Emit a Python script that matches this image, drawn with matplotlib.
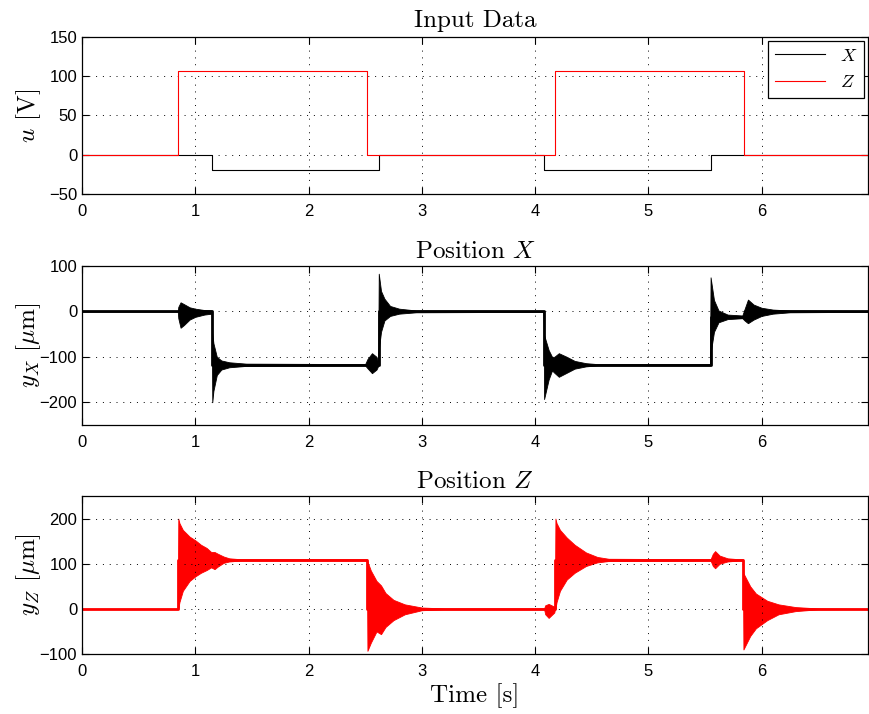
import numpy as np
import matplotlib
matplotlib.use("Agg")
import matplotlib.pyplot as plt

plt.rcParams['mathtext.fontset'] = 'cm'
plt.rcParams['font.family'] = ['Liberation Sans', 'DejaVu Sans']

# input voltages (switch times and levels)
ux_t = [0, 1.15, 2.62, 4.08, 5.555, 6.94]
ux_v = [0, -20, 0, -20, 0, 0]
uz_t = [0, 0.85, 2.52, 4.18, 5.845, 6.94]
uz_v = [0, 107, 0, 107, 0, 0]

# position X: settled level and oscillation envelope
yx_mean_t = [0, 1.15, 2.62, 4.08, 5.55, 5.85, 6.94]
yx_mean_v = [0, -117.5, 0, -117.5, -12, 0, 0]
yx_env_t = [0.0, 0.845, 0.85, 0.87, 0.90, 0.95, 1.00, 1.08, 1.145,
            1.15, 1.16, 1.19, 1.23, 1.30, 1.45, 2.50, 2.52, 2.56, 2.60, 2.615,
            2.62, 2.64, 2.67, 2.72, 2.80, 2.95, 4.075,
            4.08, 4.12, 4.15, 4.17, 4.21, 4.28, 4.35, 4.45, 4.55, 5.545,
            5.55, 5.58, 5.62, 5.70, 5.83, 5.85, 5.88, 5.93, 6.00, 6.10, 6.25, 6.94]
yx_lo = [0, 0, -15, -36, -30, -18, -12, -7, -5,
         -200, -175, -140, -128, -123, -120, -119, -125, -136, -128, -120,
         -85, -45, -20, -10, -5, -2, -1,
         -193, -150, -130, -135, -144, -135, -126, -121, -119, -119,
         -92, -45, -24, -17, -15, -20, -26, -18, -10, -5, -2, -1]
yx_hi = [0, 0, 10, 20, 16, 9, 6, 3, 2,
         -48, -70, -100, -108, -112, -115, -116, -105, -92, -100, -112,
         83, 45, 28, 12, 6, 2, 1,
         -52, -85, -100, -100, -92, -100, -109, -114, -116, -116,
         75, 25, 2, -7, -9, 5, 26, 15, 8, 4, 2, 1]

# position Z
yz_mean_t = [0, 0.85, 2.52, 4.18, 5.84, 6.94]
yz_mean_v = [0, 108.5, 0, 108.5, 0, 0]
yz_env_t = [0.0, 0.845, 0.85, 0.86, 0.89, 0.95, 1.00, 1.05, 1.10, 1.14, 1.17,
            1.20, 1.25, 1.30, 1.40, 2.515,
            2.52, 2.55, 2.60, 2.64, 2.68, 2.75, 2.85, 3.00, 3.20, 4.08,
            4.09, 4.12, 4.17, 4.175,
            4.18, 4.19, 4.22, 4.28, 4.35, 4.45, 4.55, 4.65, 5.55, 5.57, 5.59,
            5.63, 5.70, 5.80, 5.835,
            5.84, 5.90, 5.95, 6.05, 6.15, 6.30, 6.50, 6.94]
yz_lo = [0, 0, 0, 15, 40, 62, 72, 80, 86, 92, 88,
         94, 102, 105, 107, 107,
         -93, -75, -50, -56, -40, -25, -12, -3, -1, -1,
         -12, -20, -8, -2,
         0, 15, 40, 65, 80, 95, 103, 106, 107, 95, 90,
         100, 105, 107, 107,
         -90, -60, -43, -25, -12, -5, -1, 0]
yz_hi = [0, 0, 200, 190, 175, 160, 152, 142, 135, 126, 126,
         122, 116, 112, 110, 110,
         105, 85, 62, 52, 35, 20, 10, 3, 1, 1,
         8, 11, 5, 2,
         200, 190, 175, 158, 142, 125, 115, 111, 110, 122, 128,
         118, 112, 110, 110,
         79, 50, 34, 18, 10, 4, 1, 0]

title_font = ['cmr10', 'DejaVu Serif']
fs = 18

fig = plt.figure(figsize=(8.7, 7.14), dpi=100)
ax1 = fig.add_axes([0.0943, 0.7283, 0.9034, 0.2199])
ax2 = fig.add_axes([0.0943, 0.4048, 0.9034, 0.2227])
ax3 = fig.add_axes([0.0943, 0.0840, 0.9034, 0.2213])

# input data
ax1.plot(ux_t, ux_v, color='k', lw=0.8, drawstyle='steps-post', label='$X$')
ax1.plot(uz_t, uz_v, color='r', lw=0.8, drawstyle='steps-post', label='$Z$')
ax1.set_ylim(-50, 150)
ax1.set_yticks([-50, 0, 50, 100, 150])
ax1.set_title('Input Data', family=title_font, fontsize=fs, pad=7)
ax1.set_ylabel('$u$ [V]', family=title_font, fontsize=fs)
leg = ax1.legend(loc='upper right', fontsize=13, fancybox=False, framealpha=1,
                 edgecolor='k', handlelength=2.8, borderaxespad=0.2)
leg.get_frame().set_linewidth(0.9)

# position X
ax2.fill_between(yx_env_t, yx_lo, yx_hi, color='k', lw=0.6)
ax2.plot(yx_mean_t, yx_mean_v, color='k', lw=2, drawstyle='steps-post')
ax2.set_ylim(-250, 100)
ax2.set_yticks([-200, -100, 0, 100])
ax2.set_title('Position $X$', family=title_font, fontsize=fs, pad=6)
ax2.set_ylabel(r'$y_X$ [$\mu$m]', family=title_font, fontsize=fs)

# position Z
ax3.fill_between(yz_env_t, yz_lo, yz_hi, color='r', lw=0.6)
ax3.plot(yz_mean_t, yz_mean_v, color='r', lw=2, drawstyle='steps-post')
ax3.set_ylim(-100, 250)
ax3.set_yticks([-100, 0, 100, 200])
ax3.set_title('Position $Z$', family=title_font, fontsize=fs, pad=6)
ax3.set_ylabel(r'$y_Z$ [$\mu$m]', family=title_font, fontsize=fs)
ax3.set_xlabel('Time [s]', family=title_font, fontsize=fs, labelpad=3)

for ax in [ax1, ax2, ax3]:
    ax.set_xlim(0, 6.94)
    ax.set_xticks(range(7))
    ax.grid(True, color='k', linestyle=(0, (1, 6)), lw=0.7)
    ax.tick_params(direction='in', top=True, right=True, labelsize=12, length=5)
    ax.tick_params(axis='x', pad=7)
    for s in ax.spines.values():
        s.set_linewidth(0.9)
    ax.yaxis.set_label_coords(-0.05, 0.5)

fig.savefig('out.png', dpi=100)
